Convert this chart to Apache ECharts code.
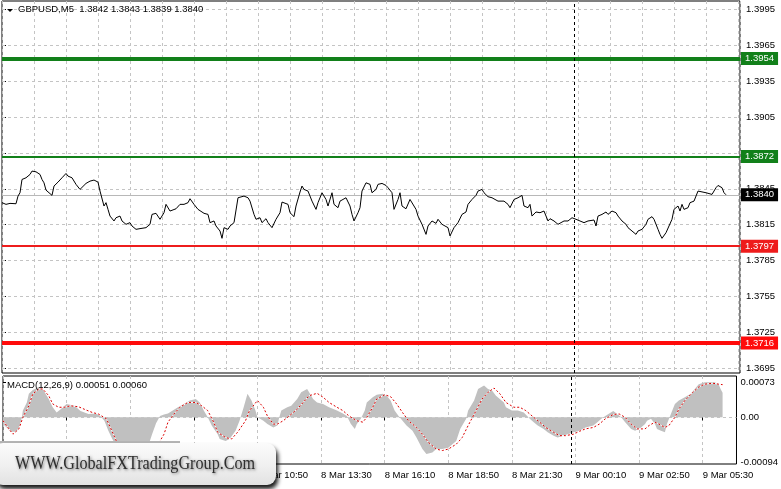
<!DOCTYPE html>
<html><head><meta charset="utf-8">
<script src="https://cdn.jsdelivr.net/npm/echarts@6/dist/echarts.min.js"></script>
<style>html,body{margin:0;padding:0;background:#fff}#c{width:781px;height:489px}</style>
</head><body><div id="c"></div>
<script>
// ---------- DATA ----------
const symbolTitle = 'GBPUSD,M5  1.3842 1.3843 1.3839 1.3840';
const macdTitle = 'MACD(12,26,9) 0.00051 0.00060';
const watermarkText = 'WWW.GlobalFXTradingGroup.Com';

// x = bar index (M5 bars, bar 0 = 8 Mar 00:10)
const timeLabelBars = [0, 32, 64, 96, 128, 160, 192, 224, 256, 288, 320, 352];
const timeLabels = ['8 Mar 00:10', '8 Mar 02:50', '8 Mar 05:30', '8 Mar 08:10', '8 Mar 10:50', '8 Mar 13:30',
  '8 Mar 16:10', '8 Mar 18:50', '8 Mar 21:30', '9 Mar 00:10', '9 Mar 02:50', '9 Mar 05:30'];
const daySeparatorBar = 286;

const priceTicks = [1.3695, 1.3725, 1.3755, 1.3785, 1.3815, 1.3845, 1.3875, 1.3905, 1.3935, 1.3965, 1.3995];
const macdTicks = [-0.00094, 0, 0.00073];
const macdRange = [-0.00097, 0.00086];

const levelValues = [1.3954, 1.3872, 1.3797, 1.3716];
const bidPrice = 1.3840;

const pricePoints = [
[0,1.38334],[1,1.38339],[2,1.38320],[4,1.38328],[7,1.38325],[8,1.38389],[9,1.38417],[10,1.38528],[12,1.38542],[14,1.38570],
[15,1.38598],[17,1.38592],[19,1.38570],[20,1.38528],[21,1.38500],[22,1.38439],[23,1.38423],[25,1.38395],[26,1.38473],[28,1.38506],
[30,1.38542],[32,1.38578],[33,1.38556],[34,1.38570],[35,1.38542],[36,1.38556],[37,1.38487],[39,1.38445],[40,1.38459],[42,1.38495],
[44,1.38514],[46,1.38523],[48,1.38506],[49,1.38431],[51,1.38306],[52,1.38334],[53,1.38278],[54,1.38222],[56,1.38181],[57,1.38208],
[59,1.38222],[60,1.38181],[62,1.38153],[64,1.38167],[65,1.38139],[67,1.38111],[69,1.38117],[70,1.38103],[72,1.38125],[74,1.38153],
[75,1.38236],[77,1.38245],[79,1.38195],[80,1.38181],[81,1.38250],[82,1.38320],[84,1.38264],[85,1.38278],[87,1.38283],[89,1.38320],
[91,1.38320],[93,1.38334],[94,1.38367],[96,1.38320],[98,1.38278],[99,1.38264],[101,1.38245],[103,1.38236],[104,1.38167],[106,1.38181],
[107,1.38139],[109,1.38097],[110,1.38036],[111,1.38125],[113,1.38111],[114,1.38139],[116,1.38167],[117,1.38181],[118,1.38375],[119,1.38384],
[121,1.38389],[123,1.38375],[124,1.38347],[126,1.38236],[127,1.38195],[129,1.38208],[130,1.38167],[131,1.38181],[132,1.38200],[133,1.38167],
[135,1.38125],[137,1.38195],[139,1.38250],[140,1.38339],[141,1.38328],[143,1.38320],[144,1.38250],[146,1.38217],[147,1.38306],[149,1.38423],
[150,1.38473],[151,1.38445],[153,1.38431],[155,1.38347],[157,1.38278],[158,1.38334],[160,1.38417],[162,1.38361],[163,1.38306],[165,1.38417],
[166,1.38320],[168,1.38292],[169,1.38347],[172,1.38375],[174,1.38306],[175,1.38236],[176,1.38181],[178,1.38250],[179,1.38292],[180,1.38431],
[182,1.38500],[183,1.38514],[184,1.38487],[185,1.38417],[187,1.38445],[188,1.38487],[190,1.38495],[192,1.38478],[193,1.38459],[195,1.38417],
[196,1.38278],[198,1.38361],[199,1.38417],[200,1.38306],[202,1.38283],[204,1.38361],[205,1.38347],[207,1.38278],[208,1.38222],[210,1.38153],
[212,1.38069],[213,1.38139],[215,1.38181],[217,1.38161],[218,1.38195],[220,1.38153],[221,1.38167],[223,1.38125],[224,1.38056],[226,1.38125],
[228,1.38167],[229,1.38181],[230,1.38236],[232,1.38256],[233,1.38320],[235,1.38361],[237,1.38395],[238,1.38431],[240,1.38445],[241,1.38417],
[243,1.38384],[245,1.38375],[246,1.38375],[248,1.38347],[249,1.38334],[251,1.38347],[253,1.38320],[254,1.38292],[256,1.38361],[258,1.38375],
[259,1.38384],[260,1.38395],[261,1.38306],[263,1.38292],[264,1.38320],[265,1.38222],[267,1.38256],[269,1.38250],[271,1.38264],[273,1.38181],
[274,1.38200],[276,1.38181],[278,1.38153],[279,1.38167],[281,1.38181],[283,1.38181],[285,1.38208],[287,1.38195],[289,1.38181],[291,1.38167],
[293,1.38181],[294,1.38172],[296,1.38189],[297,1.38139],[298,1.38222],[300,1.38236],[302,1.38256],[303,1.38236],[305,1.38264],[307,1.38250],
[308,1.38222],[310,1.38181],[312,1.38153],[313,1.38125],[315,1.38097],[317,1.38069],[318,1.38097],[320,1.38111],[322,1.38153],[323,1.38195],
[325,1.38217],[326,1.38195],[328,1.38111],[329,1.38069],[330,1.38036],[332,1.38083],[333,1.38069],[335,1.38195],[336,1.38278],[338,1.38306],
[339,1.38264],[340,1.38320],[341,1.38278],[343,1.38292],[344,1.38334],[346,1.38347],[348,1.38431],[349,1.38423],[352,1.38417],[353,1.38423],
[355,1.38403],[357,1.38459],[358,1.38478],[360,1.38459],[361,1.38417],[362,1.38400]
];

const macdHistPoints = [
[0,-0.00014],[4,-0.00030],[7,-0.00030],[9,-0.00014],[10,0.00014],[12,0.00031],[13,0.00049],[15,0.00057],[18,0.00063],[20,0.00059],
[23,0.00038],[25,0.00021],[27,0.00010],[29,0.00017],[32,0.00028],[33,0.00031],[36,0.00024],[39,0.00013],[43,0.00007],[47,0.00008],
[49,0.00003],[51,-0.00007],[53,-0.00028],[55,-0.00045],[57,-0.00059],[60,-0.00075],[64,-0.00086],[68,-0.00088],[71,-0.00078],[73,-0.00060],
[75,-0.00035],[77,-0.00012],[79,0.00003],[81,0.00006],[83,0.00008],[85,0.00013],[88,0.00021],[91,0.00028],[94,0.00035],[97,0.00038],
[99,0.00031],[101,0.00014],[103,0.0],[105,-0.00017],[108,-0.00035],[109,-0.00045],[112,-0.00049],[114,-0.00045],[117,-0.00028],[119,-0.00007],
[121,0.00020],[123,0.00049],[124,0.00045],[125,0.00035],[127,0.00014],[128,0.0],[131,-0.00007],[133,-0.00014],[136,-0.00021],[138,-0.00017],
[139,0.0],[140,0.00014],[143,0.00021],[145,0.00024],[148,0.00038],[150,0.00052],[153,0.00059],[154,0.00052],[156,0.00038],[158,0.00031],
[161,0.00028],[164,0.00021],[168,0.00014],[171,0.00008],[173,0.00003],[175,-0.00014],[177,-0.00024],[178,-0.00014],[180,-0.00003],[182,0.00014],
[183,0.00031],[186,0.00042],[188,0.00047],[191,0.00049],[193,0.00045],[195,0.00035],[197,0.00014],[199,0.00003],[201,-0.00007],[203,-0.00017],
[206,-0.00028],[208,-0.00042],[211,-0.00066],[213,-0.00076],[216,-0.00073],[218,-0.00066],[221,-0.00066],[224,-0.00063],[228,-0.00049],[230,-0.00024],
[233,-0.00003],[234,0.00014],[237,0.00035],[239,0.00059],[242,0.00066],[244,0.00059],[246,0.00056],[248,0.00045],[252,0.00031],[253,0.00021],
[256,0.00014],[259,0.00014],[262,0.00010],[263,0.00007],[265,-0.00003],[267,-0.00010],[269,-0.00017],[272,-0.00024],[274,-0.00031],[277,-0.00038],
[279,-0.00042],[282,-0.00038],[284,-0.00035],[287,-0.00031],[290,-0.00028],[293,-0.00021],[297,-0.00017],[299,-0.00010],[301,-0.00003],[303,0.00003],
[304,0.00007],[307,0.00013],[309,0.00007],[311,0.0],[313,-0.00010],[316,-0.00024],[318,-0.00028],[321,-0.00021],[323,-0.00014],[324,-0.00007],
[326,-0.00003],[328,-0.00014],[329,-0.00024],[331,-0.00028],[333,-0.00031],[334,-0.00014],[336,0.00007],[338,0.00028],[340,0.00035],[343,0.00042],
[346,0.00049],[348,0.00059],[350,0.00069],[353,0.00073],[355,0.00073],[358,0.00073],[360,0.00069],[361,0.00059],[362,0.00051]
];

const macdSignalPoints = [
[0,-0.00007],[3,-0.00024],[5,-0.00035],[8,-0.00024],[10,0.0],[13,0.00024],[15,0.00049],[18,0.00059],[20,0.00059],[23,0.00045],
[25,0.00028],[28,0.00021],[31,0.00021],[34,0.00024],[38,0.00022],[42,0.00015],[45,0.00010],[48,0.00007],[52,-0.00003],[54,-0.00021],
[57,-0.00049],[62,-0.00066],[68,-0.00076],[74,-0.00068],[78,-0.00056],[81,-0.00035],[83,-0.00010],[86,0.00007],[89,0.00021],[93,0.00031],
[97,0.00031],[100,0.00024],[103,0.00014],[106,-0.00010],[108,-0.00031],[112,-0.00042],[115,-0.00045],[118,-0.00031],[122,-0.00007],[124,0.00014],
[128,0.00035],[131,0.00021],[133,0.00003],[136,-0.00014],[138,-0.00014],[141,-0.00007],[144,0.00003],[148,0.00017],[151,0.00031],[154,0.00045],
[158,0.00050],[161,0.00042],[164,0.00031],[168,0.00021],[171,0.00014],[174,0.00003],[178,-0.00007],[181,-0.00010],[183,0.0],[186,0.00021],
[188,0.00038],[192,0.00047],[195,0.00043],[198,0.00028],[201,0.00010],[204,-0.00007],[208,-0.00021],[211,-0.00035],[214,-0.00052],[218,-0.00066],
[221,-0.00069],[224,-0.00066],[228,-0.00056],[231,-0.00042],[234,-0.00017],[238,0.00014],[241,0.00038],[244,0.00052],[247,0.00061],[250,0.00049],
[253,0.00031],[257,0.00021],[260,0.00021],[263,0.00014],[267,0.0],[270,-0.00010],[273,-0.00021],[277,-0.00031],[280,-0.00038],[283,-0.00038],
[287,-0.00035],[290,-0.00029],[293,-0.00024],[297,-0.00021],[300,-0.00014],[303,-0.00003],[307,0.00006],[310,0.00007],[313,0.0],[316,-0.00014],
[319,-0.00024],[323,-0.00024],[325,-0.00017],[328,-0.00010],[330,-0.00014],[333,-0.00021],[335,-0.00017],[338,0.0],[340,0.00017],[343,0.00035],
[347,0.00052],[350,0.00063],[353,0.00069],[357,0.00071],[360,0.00069],[362,0.00068]
];

// ---------- STYLE ----------
const FONT = '"Liberation Sans", Arial, sans-serif';
const FS = 9.5;
const GRIDC = '#c4c4c4';
const levelStyles = [
  {color: '#12801a', width: 4},
  {color: '#12801a', width: 2},
  {color: '#ee1c1c', width: 2},
  {color: '#ff0b0b', width: 4}
];

const boxLabel = (bg) => ({
  show: true, position: 'end', distance: 1,
  formatter: p => Number(p.value).toFixed(4),
  backgroundColor: bg, color: '#fff', padding: [2, 4, 1, 4],
  fontSize: FS, fontFamily: FONT
});

const levelLines = levelValues.map((v, i) => ({
  yAxis: v,
  lineStyle: {color: levelStyles[i].color, width: levelStyles[i].width, type: 'solid'},
  label: boxLabel(levelStyles[i].color)
}));

const chart = echarts.init(document.getElementById('c'), null, {renderer: 'canvas'});

const dashed = {color: GRIDC, type: [3, 3], width: 1};

const option = {
  animation: false,
  backgroundColor: '#fff',
  grid: [
    {left: 2, right: 41, top: 1, height: 372, show: true, borderColor: '#000', borderWidth: 1, backgroundColor: 'transparent'},
    {left: 2, right: 41, top: 376, height: 88, show: true, borderColor: '#000', borderWidth: 1, backgroundColor: 'transparent'}
  ],
  xAxis: [
    {type: 'value', gridIndex: 0, min: 0, max: 369, interval: 16,
      axisLine: {show: false}, axisTick: {show: false}, axisLabel: {show: false},
      splitLine: {show: true, lineStyle: dashed}},
    {type: 'value', gridIndex: 1, min: 0, max: 369, interval: 16,
      axisLine: {show: false},
      axisTick: {show: true, customValues: timeLabelBars, length: 3, lineStyle: {color: '#000'}},
      axisLabel: {show: true, customValues: timeLabelBars, align: 'left', margin: 6,
        formatter: v => { const k = timeLabelBars.indexOf(v); return k >= 0 ? timeLabels[k] : ''; },
        fontSize: FS, fontFamily: FONT, color: '#000'},
      splitLine: {show: true, lineStyle: dashed}}
  ],
  yAxis: [
    {type: 'value', gridIndex: 0, position: 'right', min: 1.3691, max: 1.4002, scale: true,
      axisLine: {show: false},
      axisTick: {show: true, customValues: priceTicks, length: 4, lineStyle: {color: '#000'}},
      axisLabel: {show: true, customValues: priceTicks, margin: 6, formatter: v => v.toFixed(4),
        fontSize: FS, fontFamily: FONT, color: '#000'},
      splitLine: {show: false}},
    {type: 'value', gridIndex: 1, position: 'right', min: macdRange[0], max: macdRange[1],
      axisLine: {show: false},
      axisTick: {show: true, customValues: macdTicks, length: 3, lineStyle: {color: '#000'}},
      axisLabel: {show: true, customValues: macdTicks, margin: 4,
        formatter: v => (v === 0 ? '0.00' : v.toFixed(5)),
        fontSize: FS, fontFamily: FONT, color: '#000'},
      splitLine: {show: false}}
  ],
  series: [
    {
      name: 'grid', type: 'line', xAxisIndex: 0, yAxisIndex: 0, data: [], z: 1, silent: true,
      markLine: {silent: true, symbol: 'none', precision: 6, label: {show: false}, animation: false,
        data: priceTicks.map(v => ({yAxis: v, lineStyle: dashed}))}
    },
    {
      name: 'levels', type: 'line', xAxisIndex: 0, yAxisIndex: 0, data: [], z: 2, silent: true,
      markLine: {silent: true, symbol: 'none', precision: 6, animation: false,
        data: levelLines.concat([
          {yAxis: bidPrice, lineStyle: {color: '#b8b8b8', width: 1, type: 'solid'}, label: boxLabel('#000')},
          {xAxis: daySeparatorBar, lineStyle: {color: '#000', width: 1, type: [3, 3]}, label: {show: false}}
        ])}
    },
    {
      name: 'GBPUSD', type: 'line', xAxisIndex: 0, yAxisIndex: 0, data: pricePoints, z: 5,
      symbol: 'none', lineStyle: {color: '#000', width: 1}, silent: true
    },
    {
      name: 'MACD', type: 'line', xAxisIndex: 1, yAxisIndex: 1, data: macdHistPoints, z: 3,
      symbol: 'none', lineStyle: {width: 0, color: '#c0c0c0'}, silent: true,
      areaStyle: {color: '#c0c0c0', opacity: 1, origin: 0}
    },
    {
      name: 'macdZero', type: 'line', xAxisIndex: 1, yAxisIndex: 1, data: [], z: 3, silent: true,
      markLine: {silent: true, symbol: 'none', precision: 6, animation: false, label: {show: false},
        data: [{yAxis: 0, lineStyle: {color: '#c4c4c4', type: [3, 3], width: 1}}]}
    },
    {
      name: 'macdSeparator', type: 'line', xAxisIndex: 1, yAxisIndex: 1, z: 6, silent: true,
      data: [[daySeparatorBar, macdRange[0]], [daySeparatorBar, macdRange[1]]],
      symbol: 'none', lineStyle: {color: '#000', width: 1, type: [3, 3]}
    },
    {
      name: 'SignalBg', type: 'line', xAxisIndex: 1, yAxisIndex: 1, data: macdSignalPoints, z: 4,
      symbol: 'none', lineStyle: {width: 1, color: '#ffffff'}, silent: true
    },
    {
      name: 'Signal', type: 'line', xAxisIndex: 1, yAxisIndex: 1, data: macdSignalPoints, z: 5,
      symbol: 'none', lineStyle: {width: 1, color: '#dd0000', type: [2, 2]}, silent: true
    }
  ],
  graphic: [
    {type: 'polygon', z: 50, shape: {points: [[7, 9], [13, 9], [10, 12]]}, style: {fill: '#000'}},
    {type: 'text', z: 50, x: 18, y: 4, style: {text: symbolTitle, fontSize: FS, fontFamily: FONT, fill: '#000'}},
    {type: 'text', z: 50, x: 7, y: 380, style: {text: macdTitle, fontSize: FS, fontFamily: FONT, fill: '#000'}},
    {type: 'rect', z: 100, shape: {x: 0, y: 441, width: 180, height: 4}, style: {fill: '#b4b4b4'}},
    {type: 'rect', z: 101, shape: {x: -6, y: 443, width: 282, height: 42, r: 9},
      style: {
        fill: new echarts.graphic.LinearGradient(0, 0, 0, 1, [
          {offset: 0, color: '#fbfbfb'}, {offset: 0.5, color: '#f1f1f1'}, {offset: 1, color: '#e2e2e2'}
        ]),
        shadowBlur: 4, shadowColor: 'rgba(0,0,0,0.9)', shadowOffsetX: 2, shadowOffsetY: 4
      }},
    {type: 'text', z: 102, x: 15, y: 464, scaleX: 0.85,
      style: {text: watermarkText, fontSize: 19, fontFamily: '"Liberation Serif", "DejaVu Serif", serif',
        fill: '#2e2e2e', verticalAlign: 'middle', align: 'left',
        textShadowColor: 'rgba(0,0,0,0.55)', textShadowBlur: 3, textShadowOffsetX: 1, textShadowOffsetY: 1}}
  ]
};
chart.setOption(option);
</script>
</body></html>
